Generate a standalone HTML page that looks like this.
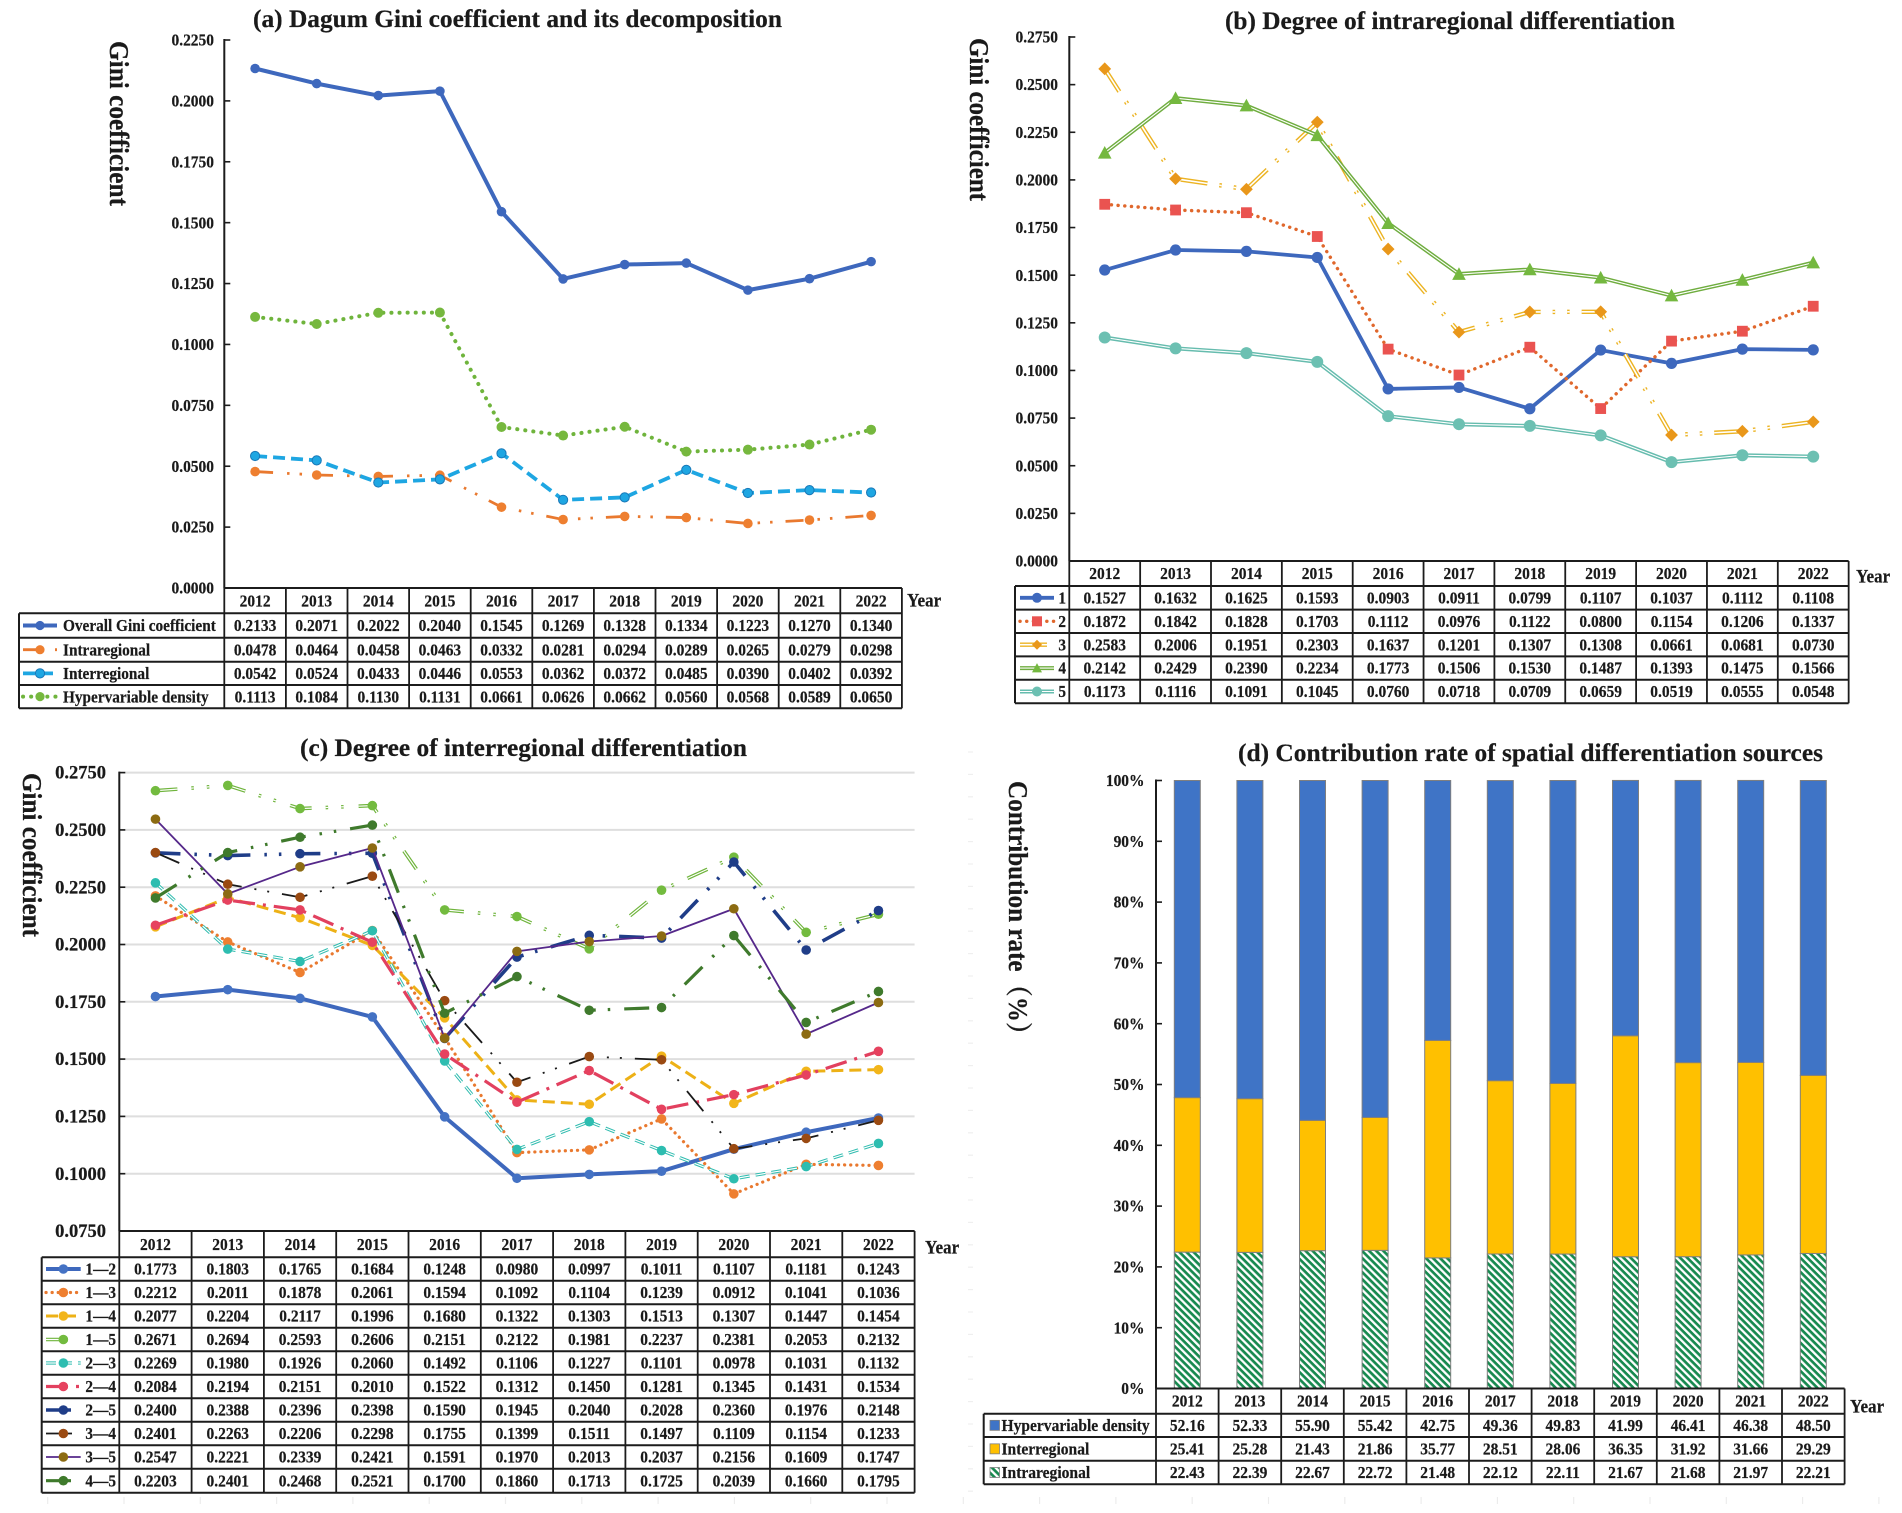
<!DOCTYPE html>
<html lang="en">
<head>
<meta charset="utf-8">
<title>Dagum Gini coefficient charts</title>
<style>
html,body{margin:0;padding:0;background:#fff;}
svg{display:block;filter:blur(0.35px);}
text{font-family:"Liberation Serif",serif;font-weight:bold;fill:#1a1a1a;stroke:#1a1a1a;stroke-width:0.22px;}
</style>
</head>
<body>
<svg id="figure" xmlns="http://www.w3.org/2000/svg" width="1902" height="1513" viewBox="0 0 1902 1513">
  <defs>
    <pattern id="hatch" patternUnits="userSpaceOnUse" width="5" height="5" patternTransform="rotate(45)">
      <rect width="5" height="5" fill="#ffffff"></rect>
      <rect width="5" height="2.7" fill="#17894f"></rect>
    </pattern>
  </defs>
  <rect width="1902" height="1513" fill="#ffffff"></rect>
  <g id="artifacts"></g>

  <text x="253" y="27" font-size="25" textLength="529" lengthAdjust="spacingAndGlyphs">(a) Dagum Gini coefficient and its decomposition</text>
  <text x="1225" y="29" font-size="25" textLength="450" lengthAdjust="spacingAndGlyphs">(b) Degree of intraregional differentiation</text>
  <text x="300" y="756" font-size="25" textLength="447" lengthAdjust="spacingAndGlyphs">(c) Degree of interregional differentiation</text>
  <text x="1238" y="761" font-size="25" textLength="585" lengthAdjust="spacingAndGlyphs">(d) Contribution rate of spatial differentiation sources</text>

  <text transform="translate(110,41) rotate(90)" font-size="27" textLength="165" lengthAdjust="spacingAndGlyphs">Gini coefficient</text>
  <text transform="translate(970,38) rotate(90)" font-size="27" textLength="163" lengthAdjust="spacingAndGlyphs">Gini coefficient</text>
  <text transform="translate(23,773) rotate(90)" font-size="27" textLength="164" lengthAdjust="spacingAndGlyphs">Gini coefficient</text>
  <text transform="translate(1009,781) rotate(90)" font-size="27" textLength="266" lengthAdjust="spacingAndGlyphs" style="font-family:'Liberation Serif','Noto Serif CJK SC',serif">Contribution rate（%）</text>

  <g id="panel-a"></g>
  <g id="panel-b"></g>
  <g id="panel-c"></g>
  <g id="panel-d"></g>
</svg>

<script>
// ---------- shared categories ----------
const years = [2012, 2013, 2014, 2015, 2016, 2017, 2018, 2019, 2020, 2021, 2022];

// ---------- panel (a) data ----------
const aTicks = [0, 0.025, 0.05, 0.075, 0.1, 0.125, 0.15, 0.175, 0.2, 0.225];
const aNames = ["Overall Gini coefficient", "Intraregional", "Interregional", "Hypervariable density"];
const aOverall = [0.2133, 0.2071, 0.2022, 0.2040, 0.1545, 0.1269, 0.1328, 0.1334, 0.1223, 0.1270, 0.1340];
const aIntra = [0.0478, 0.0464, 0.0458, 0.0463, 0.0332, 0.0281, 0.0294, 0.0289, 0.0265, 0.0279, 0.0298];
const aInter = [0.0542, 0.0524, 0.0433, 0.0446, 0.0553, 0.0362, 0.0372, 0.0485, 0.0390, 0.0402, 0.0392];
const aHyper = [0.1113, 0.1084, 0.1130, 0.1131, 0.0661, 0.0626, 0.0662, 0.0560, 0.0568, 0.0589, 0.0650];

// ---------- panel (b) data ----------
const bTicks = [0, 0.025, 0.05, 0.075, 0.1, 0.125, 0.15, 0.175, 0.2, 0.225, 0.25, 0.275];
const bNames = ["1", "2", "3", "4", "5"];
const bRegion1 = [0.1527, 0.1632, 0.1625, 0.1593, 0.0903, 0.0911, 0.0799, 0.1107, 0.1037, 0.1112, 0.1108];
const bRegion2 = [0.1872, 0.1842, 0.1828, 0.1703, 0.1112, 0.0976, 0.1122, 0.0800, 0.1154, 0.1206, 0.1337];
const bRegion3 = [0.2583, 0.2006, 0.1951, 0.2303, 0.1637, 0.1201, 0.1307, 0.1308, 0.0661, 0.0681, 0.0730];
const bRegion4 = [0.2142, 0.2429, 0.2390, 0.2234, 0.1773, 0.1506, 0.1530, 0.1487, 0.1393, 0.1475, 0.1566];
const bRegion5 = [0.1173, 0.1116, 0.1091, 0.1045, 0.0760, 0.0718, 0.0709, 0.0659, 0.0519, 0.0555, 0.0548];

// ---------- panel (c) data ----------
const cTicks = [0.075, 0.1, 0.125, 0.15, 0.175, 0.2, 0.225, 0.25, 0.275];
const cNames = ["1—2", "1—3", "1—4", "1—5", "2—3", "2—4", "2—5", "3—4", "3—5", "4—5"];
const c12 = [0.1773, 0.1803, 0.1765, 0.1684, 0.1248, 0.0980, 0.0997, 0.1011, 0.1107, 0.1181, 0.1243];
const c13 = [0.2212, 0.2011, 0.1878, 0.2061, 0.1594, 0.1092, 0.1104, 0.1239, 0.0912, 0.1041, 0.1036];
const c14 = [0.2077, 0.2204, 0.2117, 0.1996, 0.1680, 0.1322, 0.1303, 0.1513, 0.1307, 0.1447, 0.1454];
const c15 = [0.2671, 0.2694, 0.2593, 0.2606, 0.2151, 0.2122, 0.1981, 0.2237, 0.2381, 0.2053, 0.2132];
const c23 = [0.2269, 0.1980, 0.1926, 0.2060, 0.1492, 0.1106, 0.1227, 0.1101, 0.0978, 0.1031, 0.1132];
const c24 = [0.2084, 0.2194, 0.2151, 0.2010, 0.1522, 0.1312, 0.1450, 0.1281, 0.1345, 0.1431, 0.1534];
const c25 = [0.2400, 0.2388, 0.2396, 0.2398, 0.1590, 0.1945, 0.2040, 0.2028, 0.2360, 0.1976, 0.2148];
const c34 = [0.2401, 0.2263, 0.2206, 0.2298, 0.1755, 0.1399, 0.1511, 0.1497, 0.1109, 0.1154, 0.1233];
const c35 = [0.2547, 0.2221, 0.2339, 0.2421, 0.1591, 0.1970, 0.2013, 0.2037, 0.2156, 0.1609, 0.1747];
const c45 = [0.2203, 0.2401, 0.2468, 0.2521, 0.1700, 0.1860, 0.1713, 0.1725, 0.2039, 0.1660, 0.1795];

// ---------- panel (d) data ----------
const dTicks = [0, 10, 20, 30, 40, 50, 60, 70, 80, 90, 100];
const dNames = ["Hypervariable density", "Interregional", "Intraregional"];
const dHyper = [52.16, 52.33, 55.90, 55.42, 42.75, 49.36, 49.83, 41.99, 46.41, 46.38, 48.50];
const dInter = [25.41, 25.28, 21.43, 21.86, 35.77, 28.51, 28.06, 36.35, 31.92, 31.66, 29.29];
const dIntra = [22.43, 22.39, 22.67, 22.72, 21.48, 22.12, 22.11, 21.67, 21.68, 21.97, 22.21];

// ---------- helpers ----------
const NS = "http://www.w3.org/2000/svg";
const INK = "#1c1c1c";

function make(tag, attrs, parent) {
  const node = document.createElementNS(NS, tag);
  for (const key in attrs) node.setAttribute(key, attrs[key]);
  parent.appendChild(node);
  return node;
}

function label(parent, x, y, str, size, sx, anchor, name) {
  const node = make("text", {
    transform: "translate(" + x + "," + (y + size * 0.33) + ") scale(" + sx + ",1)",
    "font-size": size,
    "text-anchor": anchor
  }, parent);
  node.textContent = str;
  
  
  return node;
}

function rule(parent, x1, y1, x2, y2, width, color, name) {
  const node = make("line", { x1: x1, y1: y1, x2: x2, y2: y2, stroke: color, "stroke-width": width }, parent);
  
  
  return node;
}

function marker(parent, kind, cx, cy, r, fill, edge, name) {
  let node;
  if (kind === "square") {
    node = make("rect", { x: cx - r, y: cy - r, width: 2 * r, height: 2 * r, fill: fill }, parent);
  } else if (kind === "diamond") {
    node = make("polygon", { points: cx + "," + (cy - r) + " " + (cx + r) + "," + cy + " " + cx + "," + (cy + r) + " " + (cx - r) + "," + cy, fill: fill }, parent);
  } else if (kind === "triangle") {
    node = make("polygon", { points: cx + "," + (cy - r) + " " + (cx + r) + "," + (cy + r * 0.85) + " " + (cx - r) + "," + (cy + r * 0.85), fill: fill }, parent);
  } else {
    node = make("circle", { cx: cx, cy: cy, r: r, fill: fill }, parent);
  }
  if (edge) {
    node.setAttribute("stroke", edge);
    node.setAttribute("stroke-width", "1");
  }
  
  
  return node;
}

function strokePath(parent, d, style, name) {
  const outer = make("path", {
    d: d, fill: "none", stroke: style.color, "stroke-width": style.width,
    "stroke-linecap": style.cap || "butt", "stroke-linejoin": "round"
  }, parent);
  if (style.dash) outer.setAttribute("stroke-dasharray", style.dash);
  
  
  if (style.inner) {
    const inner = make("path", {
      d: d, fill: "none", stroke: "#ffffff", "stroke-width": style.inner, "stroke-linejoin": "round"
    }, parent);
    if (style.dash) inner.setAttribute("stroke-dasharray", style.dash);
    
    
  }
}

function drawGrid(parent, g) {
  const n = years.length;
  const right = g.x0 + n * g.cw;
  rule(parent, g.x0, g.rows[0], right, g.rows[0], 2, INK, "table-top-border");
  for (let r = 1; r < g.rows.length; r++) {
    rule(parent, g.left, g.rows[r], right, g.rows[r], 2, INK, "table-row-border");
  }
  for (let c = 0; c <= n; c++) {
    rule(parent, g.x0 + c * g.cw, g.rows[0], g.x0 + c * g.cw, g.rows[g.rows.length - 1], 1.8, INK, "table-column-border");
  }
  rule(parent, g.left, g.rows[1], g.left, g.rows[g.rows.length - 1], 2, INK, "table-left-border");
  years.forEach(function (yr, i) {
    label(parent, g.x0 + (i + 0.5) * g.cw, (g.rows[0] + g.rows[1]) / 2, String(yr), 17, 0.91, "middle", "year-label-" + yr);
  });
}

function drawValues(parent, g, values, row, digits) {
  const cy = (g.rows[row] + g.rows[row + 1]) / 2;
  values.forEach(function (v, i) {
    label(parent, g.x0 + (i + 0.5) * g.cw, cy, v.toFixed(digits), 17, 0.91, "middle", "table-value");
  });
}

function drawLineChart(parent, g, series, names, ticks, tickMin, tickMax) {
  const yOf = function (v) { return g.yBase + (v - tickMin) / (tickMax - tickMin) * (g.yTop - g.yBase); };
  const xOf = function (i) { return g.x0 + (i + 0.5) * g.cw; };

  ticks.forEach(function (t) {
    const y = yOf(t);
    if (g.grid && t > tickMin) rule(parent, g.x0, y, g.x0 + years.length * g.cw, y, 2, "#dedede", "gridline");
  });
  rule(parent, g.x0, g.yTop - 1, g.x0, g.yBase, 2, INK, "y-axis-line");
  ticks.forEach(function (t) {
    const y = yOf(t);
    rule(parent, g.x0, y, g.x0 + 6, y, 1.6, INK, "y-axis-tick");
    label(parent, g.tickX, y, t.toFixed(4), g.tickSize, g.tickSx, "end", "y-axis-tick-label");
  });

  drawGrid(parent, g);
  label(parent, g.yearX, g.yearY, "Year", 19, 0.9, "start", "x-axis-title-year");

  series.forEach(function (s, k) {
    const group = make("g", {}, parent);
    
    
    const d = s.values.map(function (v, i) { return (i ? "L" : "M") + xOf(i).toFixed(2) + " " + yOf(v).toFixed(2); }).join(" ");
    strokePath(group, d, s, 'series-line');
    s.values.forEach(function (v, i) {
      marker(group, s.shape, xOf(i), yOf(v), s.r, s.fill, s.edge, 'series-point');
    });
  });

  series.forEach(function (s, k) {
    const cy = (g.rows[k + 1] + g.rows[k + 2]) / 2;
    const entry = make("g", {}, parent);
    
    
    strokePath(entry, "M" + g.legX1 + " " + cy + " L" + g.legX2 + " " + cy, s, 'legend-line');
    marker(entry, s.shape, (g.legX1 + g.legX2) / 2, cy, Math.min(s.r, g.legR), s.fill, s.edge, 'legend-marker');
    if (g.labelAnchor === "start") {
      label(entry, g.labelX, cy, names[k], 17, g.labelSx, "start", "legend-label");
    } else {
      label(entry, g.labelX, cy, names[k], 17, g.labelSx, "end", "legend-label");
    }
    drawValues(parent, g, s.values, k + 1, 4);
  });
}

// ---------- panel (a) ----------
drawLineChart(document.getElementById("panel-a"), {
  x0: 224.3, cw: 61.6, yTop: 40, yBase: 588, left: 19,
  rows: [588, 613.3, 637.7, 661.7, 685, 708.3],
  tickX: 214, tickSize: 17, tickSx: 0.91, yearX: 907, yearY: 600,
  legX1: 23, legX2: 57, legR: 4.6, labelX: 63, labelAnchor: "start", labelSx: 0.9
}, [
  { values: aOverall, color: "#3e68bd", width: 4, shape: "circle", r: 4.8, fill: "#3e68bd" },
  { values: aIntra, color: "#e9792f", width: 2.8, dash: "18 14 2.5 10 2.5 13", shape: "circle", r: 4.8, fill: "#ee7f30" },
  { values: aInter, color: "#1ea6e2", width: 3.8, dash: "12 6", shape: "circle", r: 4.6, fill: "#1ea6e2", edge: "#1878b8" },
  { values: aHyper, color: "#6fb43c", width: 4, dash: "0.1 8", cap: "round", shape: "circle", r: 5, fill: "#76b83e" }
], aNames, aTicks, 0, 0.225);

// ---------- panel (b) ----------
drawLineChart(document.getElementById("panel-b"), {
  x0: 1069.3, cw: 70.85, yTop: 37, yBase: 561, left: 1015,
  rows: [561, 586, 609.6, 633, 656.4, 679.8, 703.2],
  tickX: 1058, tickSize: 17, tickSx: 0.91, yearX: 1856, yearY: 576,
  legX1: 1020, legX2: 1054, legR: 5, labelX: 1066, labelAnchor: "end", labelSx: 0.9
}, [
  { values: bRegion1, color: "#3e68bd", width: 3.8, shape: "circle", r: 5.6, fill: "#3e68bd" },
  { values: bRegion2, color: "#e0672c", width: 3.4, dash: "0.1 6.6", cap: "round", shape: "square", r: 5.4, fill: "#ea5350" },
  { values: bRegion3, color: "#ecb322", width: 4.4, inner: 1.6, dash: "27 12 2.5 12 2.5 12", shape: "diamond", r: 6.4, fill: "#e9971a" },
  { values: bRegion4, color: "#6fad3f", width: 4, inner: 1.1, shape: "triangle", r: 6.8, fill: "#74b83f" },
  { values: bRegion5, color: "#66bcae", width: 4, inner: 1.1, shape: "circle", r: 6, fill: "#6cc0b2" }
], bNames, bTicks, 0, 0.275);

// ---------- panel (c) ----------
drawLineChart(document.getElementById("panel-c"), {
  x0: 119.3, cw: 72.3, yTop: 772.6, yBase: 1231, left: 41.7, grid: true,
  rows: [1231, 1257.3, 1280.7, 1304.3, 1327.7, 1351.3, 1374.7, 1398.3, 1421.7, 1445.3, 1468.7, 1492.7],
  tickX: 106, tickSize: 18.5, tickSx: 1, yearX: 925, yearY: 1247,
  legX1: 46, legX2: 80.7, legR: 4.8, labelX: 116, labelAnchor: "end", labelSx: 0.9
}, [
  { values: c12, color: "#3e68bd", width: 4, shape: "circle", r: 4.8, fill: "#4472c4" },
  { values: c13, color: "#e9792f", width: 3.2, dash: "0.1 6", cap: "round", shape: "circle", r: 4.8, fill: "#ee7f30" },
  { values: c14, color: "#edb116", width: 3, dash: "12 6", shape: "circle", r: 4.8, fill: "#f2b51a" },
  { values: c15, color: "#6fb43c", width: 3.6, inner: 1.2, dash: "22 14 2.5 13 2.5 15", shape: "circle", r: 4.8, fill: "#73bb3f" },
  { values: c23, color: "#2fbcaf", width: 3.2, inner: 1.2, dash: "10 6", shape: "circle", r: 4.8, fill: "#2dbdb0" },
  { values: c24, color: "#e2405f", width: 3.2, dash: "22 8 3 8", shape: "circle", r: 4.8, fill: "#e6425f" },
  { values: c25, color: "#1f3d88", width: 3.6, dash: "25 14 2.5 12 2.5 14", shape: "circle", r: 4.8, fill: "#1f3d88" },
  { values: c34, color: "#1a1a1a", width: 1.8, dash: "26 13 2 11 2 13", shape: "circle", r: 4.8, fill: "#9a4a12" },
  { values: c35, color: "#55288a", width: 1.8, shape: "circle", r: 4.8, fill: "#8c6b12" },
  { values: c45, color: "#3f7a2c", width: 3.2, dash: "25 14 2.5 12 2.5 14", shape: "circle", r: 4.8, fill: "#3f7a2c" }
], cNames, cTicks, 0.075, 0.275);

// ---------- panel (d) ----------
(function () {
  const parent = document.getElementById("panel-d");
  const g = {
    x0: 1156, cw: 62.6, left: 983.7,
    rows: [1388.5, 1413.7, 1437, 1460.7, 1484.3]
  };
  const yBase = 1388.5, yTop = 780.5;
  const yOf = function (v) { return yBase + v / 100 * (yTop - yBase); };
  const stackOrder = [
    { values: dIntra, fill: "url(#hatch)", name: "intraregional" },
    { values: dInter, fill: "#ffc000", name: "interregional" },
    { values: dHyper, fill: "#3f74c6", name: "hypervariable-density" }
  ];

  years.forEach(function (yr, i) {
    let acc = 0;
    const cx = g.x0 + (i + 0.5) * g.cw;
    stackOrder.forEach(function (s) {
      const top = yOf(acc + s.values[i]);
      const bottom = yOf(acc);
      const bar = make("rect", {
        x: cx - 13, y: top, width: 26, height: bottom - top,
        fill: s.fill, stroke: "#7f7f7f", "stroke-width": 1
      }, parent);
      
      
      acc += s.values[i];
    });
  });

  rule(parent, g.x0, yTop - 1, g.x0, yBase, 2, INK, "y-axis-line");
  dTicks.forEach(function (t) {
    const y = yOf(t);
    rule(parent, g.x0, y, g.x0 + 6, y, 1.6, INK, "y-axis-tick");
    label(parent, 1144.5, y, t + "%", 17, 0.91, "end", "y-axis-tick-label");
  });

  drawGrid(parent, g);
  label(parent, 1850, 1406, "Year", 19, 0.9, "start", "x-axis-title-year");

  [dHyper, dInter, dIntra].forEach(function (values, k) {
    drawValues(parent, g, values, k + 1, 2);
    const cy = (g.rows[k + 1] + g.rows[k + 2]) / 2;
    const swatchFill = ["#3f74c6", "#ffc000", "url(#hatch)"][k];
    const swatch = make("rect", { x: 990, y: cy - 5, width: 9.5, height: 10, fill: swatchFill, stroke: "#7f7f7f", "stroke-width": 0.8 }, parent);
    
    
    label(parent, 1001.5, cy, dNames[k], 17, 0.915, "start", "legend-label");
  });
})();

// ---------- faint scan marks near the page edge ----------
(function () {
  const parent = document.getElementById("artifacts");
  for (let x = 47.7; x < 1900; x += 76.3) {
    const mark = rule(parent, x, 1497, x, 1504, 1.2, "#ececec", "edge-mark");
    
  }
  for (let y = 752; y < 1500; y += 22.4) {
    const mark = rule(parent, 968, y, 973, y, 1.2, "#efefef", "edge-mark");
    
  }
})();
</script>
</body>
</html>
